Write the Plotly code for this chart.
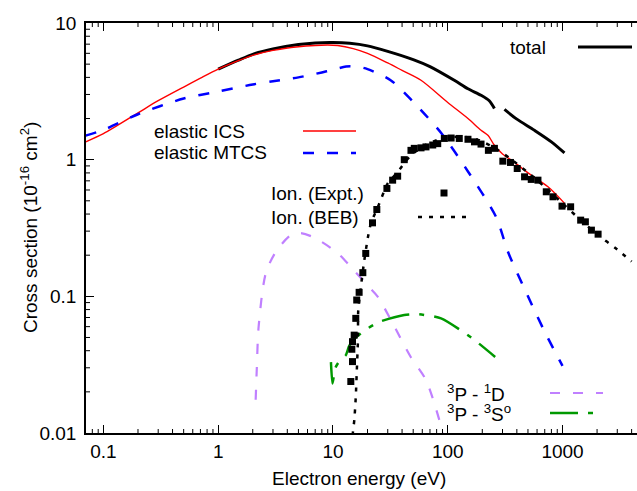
import math
import plotly.graph_objects as go

# ---- data (energy in eV, cross sections in 1e-16 cm^2) ----
ics_e = [0.07, 0.1, 0.2, 0.3, 0.5, 0.7, 1, 1.5, 2, 3, 5, 7, 9, 11, 15, 20, 30, 40, 58.5, 100, 150, 195, 225, 254, 300, 379, 500, 747, 1038]
ics_s = [1.35, 1.55, 2.2, 2.7, 3.4, 3.95, 4.6, 5.3, 5.8, 6.3, 6.7, 6.85, 6.9, 6.85, 6.5, 6.0, 5.1, 4.5, 3.81, 2.62, 2.0, 1.64, 1.5, 1.28, 1.1, 0.96, 0.8, 0.633, 0.481]

mtcs_e = [0.07, 0.1, 0.2, 0.5, 1, 2, 3, 5, 8, 10, 13, 16, 20, 32, 50, 88, 150, 264, 336, 500, 700, 1000]
mtcs_s = [1.5, 1.65, 2.15, 2.8, 3.15, 3.55, 3.75, 4.0, 4.35, 4.55, 4.8, 4.8, 4.6, 3.8, 2.65, 1.56, 0.82, 0.38, 0.21, 0.1, 0.055, 0.031]

total_e = [1, 1.5, 2, 3, 5, 7, 10, 14, 20, 30, 50, 70, 114, 150, 195, 230, 255, None, 312, 400, 570, 800, 1040]
total_s = [4.6, 5.35, 5.9, 6.45, 6.95, 7.15, 7.2, 7.1, 6.8, 6.2, 5.4, 4.8, 3.81, 3.3, 2.96, 2.7, 2.37, None, 2.33, 1.98, 1.64, 1.35, 1.12]

ion_expt_e = [14.3, 14.8, 14.6, 14.8, 15.3, 15.8, 16.1, 16.9, 18.2, 19.3, 22.1, 24.1, 29.5, 33.1, 36.6, 41.8, 47.8, 51.1, 58.5, 64.6, 74, 81.8, 93.4, 107, 126, 150, 171, 195, 226, 255, 302, 352, 403, 467, 534, 611, 722, 826, 990, 1177, 1439, 1582, 1786, 2042]
ion_expt_s = [0.0238, 0.0333, 0.041, 0.0466, 0.052, 0.069, 0.094, 0.107, 0.149, 0.206, 0.345, 0.432, 0.616, 0.708, 0.757, 1.0, 1.17, 1.21, 1.22, 1.24, 1.28, 1.31, 1.43, 1.44, 1.43, 1.41, 1.35, 1.30, 1.17, 1.21, 0.975, 0.954, 0.862, 0.749, 0.717, 0.708, 0.582, 0.535, 0.457, 0.452, 0.361, 0.351, 0.305, 0.285]

beb_e = [14.7, 14.9, 15.35, 15.8, 16.1, 16.5, 16.6, 17.5, 18.6, 20.1, 21.4, 24.6, 30, 37, 42, 48, 58, 70, 93, 120, 160, 200, 255, 350, 534, 750, 1038, 1500, 2000, 3000, 4000]
beb_s = [0.008, 0.01, 0.0125, 0.0184, 0.0275, 0.048, 0.079, 0.117, 0.175, 0.267, 0.343, 0.45, 0.67, 0.82, 0.95, 1.08, 1.22, 1.33, 1.44, 1.47, 1.45, 1.36, 1.22, 1.02, 0.77, 0.6, 0.465, 0.35, 0.285, 0.22, 0.18]

d1_e = [2.12, 2.17, 2.25, 2.6, 3.17, 4.28, 5.2, 6.8, 11, 14.3, 20, 24.6, 32, 47.6, 64.6, 91]
d1_s = [0.0175, 0.03, 0.06, 0.148, 0.211, 0.28, 0.29, 0.27, 0.207, 0.164, 0.12, 0.099, 0.067, 0.036, 0.0244, 0.01]

s3_e = [9.6, 9.9, 10.5, 11.5, 12.9, 13.8, 15, 19.3, 25.3, 41.8, 54.7, 87.4, 160, 259]
s3_s = [0.033, 0.023, 0.03, 0.034, 0.037, 0.043, 0.048, 0.057, 0.065, 0.073, 0.074, 0.069, 0.05, 0.036]

x_major = [0.1, 1, 10, 100, 1000]
x_major_text = ["0.1", "1", "10", "100", "1000"]
y_major = [0.01, 0.1, 1, 10]
y_major_text = ["0.01", "0.1", "1", "10"]

X_RANGE = [-1.152, 3.649]
Y_RANGE = [-2, 1]

FONT = "Liberation Sans, Arial, sans-serif"
FS = 19
W, H = 637, 491
L, R, T, B = 86, 0, 23, 58
PW, PH = W - L - R, H - T - B


def px(x):
    return (x - L) / PW


def py(y):
    return (H - B - y) / PH


def minor_ticks(lo, hi):
    vals = []
    for d in range(math.floor(lo) - 1, math.ceil(hi) + 1):
        for k in range(2, 10):
            v = k * 10.0 ** d
            if lo <= math.log10(v) <= hi:
                vals.append(v)
    return vals


fig = go.Figure()

fig.add_trace(go.Scatter(x=total_e, y=total_s, mode="lines", connectgaps=False,
                         line=dict(color="black", width=3, shape="spline", smoothing=0.8)))
fig.add_trace(go.Scatter(x=ics_e, y=ics_s, mode="lines",
                         line=dict(color="#ff0000", width=1.4, shape="spline", smoothing=0.8)))
fig.add_trace(go.Scatter(x=mtcs_e, y=mtcs_s, mode="lines",
                         line=dict(color="#0000ff", width=2.5, dash="11px,13px", shape="spline", smoothing=0.8)))
fig.add_trace(go.Scatter(x=d1_e, y=d1_s, mode="lines",
                         line=dict(color="#c080ff", width=2.2, dash="10px,13px", shape="spline", smoothing=0.8)))
fig.add_trace(go.Scatter(x=s3_e, y=s3_s, mode="lines",
                         line=dict(color="#009900", width=2.5, dash="28px,10px,5px,10px", shape="spline", smoothing=0.6)))
fig.add_trace(go.Scatter(x=beb_e, y=beb_s, mode="lines",
                         line=dict(color="black", width=2.5, dash="4px,7px", shape="spline", smoothing=0.6)))
fig.add_trace(go.Scatter(x=ion_expt_e, y=ion_expt_s, mode="markers",
                         marker=dict(symbol="square", size=7, color="black")))

# minor tick marks (inside): bottom and top edges for x, left edge for y
minor_len = 4
for v in minor_ticks(*X_RANGE):
    xp = (math.log10(v) - X_RANGE[0]) / (X_RANGE[1] - X_RANGE[0])
    for y0, y1 in ((0, minor_len / PH), (1, 1 - minor_len / PH)):
        fig.add_shape(type="line", xref="paper", yref="paper", x0=xp, x1=xp, y0=y0, y1=y1,
                      line=dict(color="black", width=1))
for v in minor_ticks(*Y_RANGE):
    yp = (math.log10(v) - Y_RANGE[0]) / (Y_RANGE[1] - Y_RANGE[0])
    fig.add_shape(type="line", xref="paper", yref="paper", x0=0, x1=minor_len / PW, y0=yp, y1=yp,
                  line=dict(color="black", width=1))

# key: text on the left, line sample on the right
keys = [
    ("total", 508, 47, 578, 632, dict(color="black", width=3)),
    ("elastic ICS", 152, 131, 303, 356, dict(color="#ff0000", width=1.4)),
    ("elastic MTCS", 152, 153, 303, 356, dict(color="#0000ff", width=2.5, dash="11px,13px")),
    ("Ion. (Expt.)", 269, 193, None, None, None),
    ("Ion. (BEB)", 269, 217, 418, 472, dict(color="black", width=2.5, dash="4px,7px")),
    ("<sup>3</sup>P - <sup>1</sup>D", 445, 393, 550, 603, dict(color="#c080ff", width=2.2, dash="10px,13px")),
    ("<sup>3</sup>P - <sup>3</sup>S<sup>o</sup>", 445, 413, 550, 603, dict(color="#009900", width=2.5, dash="28px,10px,5px,10px")),
]
for text, tx, ty, x0, x1, ln in keys:
    fig.add_annotation(text=text, x=px(tx), y=py(ty), xref="paper", yref="paper",
                       xanchor="left", yanchor="middle", showarrow=False,
                       font=dict(family=FONT, size=FS, color="black"))
    if ln is not None:
        fig.add_shape(type="line", xref="paper", yref="paper",
                      x0=px(x0), x1=px(x1), y0=py(ty), y1=py(ty), line=ln)

# point sample for the experimental key entry
fig.add_shape(type="rect", xref="paper", yref="paper",
              x0=px(444 - 3.5), x1=px(444 + 3.5), y0=py(193 + 3.5), y1=py(193 - 3.5),
              fillcolor="black", line=dict(width=0))

# axis titles
fig.add_annotation(text="Electron energy (eV)", x=px(359), y=py(478), xref="paper", yref="paper",
                   xanchor="center", yanchor="middle", showarrow=False,
                   font=dict(family=FONT, size=FS, color="black"))
fig.add_annotation(text="Cross section (10<sup>-16</sup> cm<sup>2</sup>)", x=px(29), y=py(228),
                   xref="paper", yref="paper", textangle=-90,
                   xanchor="center", yanchor="middle", showarrow=False,
                   font=dict(family=FONT, size=FS, color="black"))

tick_style = dict(ticks="inside", tickwidth=1, tickcolor="black", showgrid=False, zeroline=False,
                  showline=True, linecolor="black", linewidth=1.5, ticklen=8,
                  tickfont=dict(family=FONT, size=FS, color="black"))

fig.update_layout(
    width=W, height=H, margin=dict(l=L, r=R, t=T, b=B),
    plot_bgcolor="white", paper_bgcolor="white", showlegend=False,
    font=dict(family=FONT, size=FS, color="black"),
    xaxis=dict(type="log", range=X_RANGE, tickvals=x_major, ticktext=x_major_text,
               mirror="ticks", **tick_style),
    yaxis=dict(type="log", range=Y_RANGE, tickvals=y_major, ticktext=y_major_text,
               mirror=False, ticklabelstandoff=4, **tick_style),
)

fig.write_html("out.html")
